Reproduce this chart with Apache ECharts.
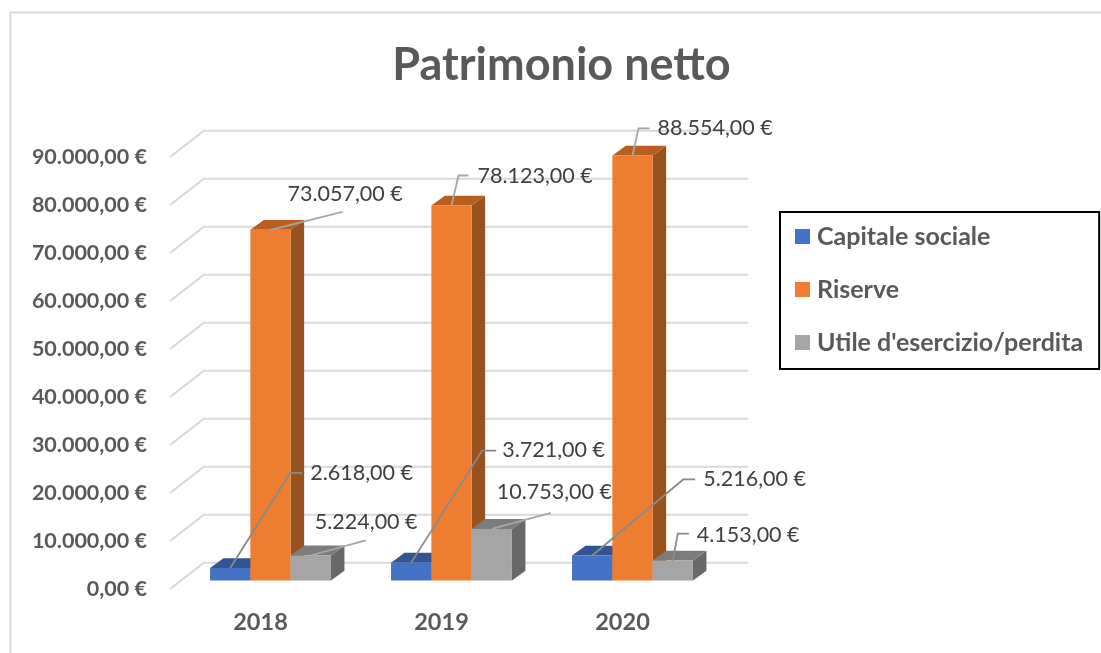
<!DOCTYPE html>
<html>
<head>
<meta charset="utf-8">
<style>html,body{margin:0;padding:0;background:#fff}#chart{width:1101px;height:653px}</style>
<script src="https://cdn.jsdelivr.net/npm/echarts@6/dist/echarts.min.js"></script>
</head>
<body>
<div id="chart"></div>
<script>
var categories = ['2018', '2019', '2020'];
var capitaleSociale = [2618, 3721, 5216];
var riserve = [73057, 78123, 88554];
var utile = [5224, 10753, 4153];
var yTicks = [0, 10000, 20000, 30000, 40000, 50000, 60000, 70000, 80000, 90000];

var FONT = 'Lato';
// leader line paths and text spots, relative to the top middle of each bar
var leaders = [
    [
        {path: [[0, 0], [60, -95], [72, -95]], text: [80, -95], color: '#8a8a8a'},
        {path: [[0, 0], [71, -112], [85, -112]], text: [91, -113], color: '#8a8a8a'},
        {path: [[0, 0], [91, -76], [103, -76]], text: [111, -76], color: '#8a8a8a'}
    ],
    [
        {path: [[0, 0], [72, -18]], text: [17, -36], color: '#a6a6a6'},
        {path: [[0, 0], [7, -30], [17, -30]], text: [26, -29], color: '#a6a6a6'},
        {path: [[0, 0], [6, -27], [17, -27]], text: [25, -27], color: '#a6a6a6'}
    ],
    [
        {path: [[0, 0], [55, -15]], text: [4, -33], color: '#a6a6a6'},
        {path: [[0, 0], [59, -16]], text: [5, -37], color: '#a6a6a6'},
        {path: [[0, 0], [5, -27], [16, -27]], text: [24, -26], color: '#8a8a8a'}
    ]
];

var BAR_W = 40.3, DEPTH_X = 13.5, DEPTH_Y = 9.8;
var SHIFT_X = 10, SHIFT_Y = -8.5;
var WALL_X = 34, WALL_Y = -26.3, WALL_END = 35;

var euro = function(v) {
    var s = String(v).replace(/\B(?=(\d{3})+$)/g, '.');
    return s + ',00 €';
};

// front face of a bar in pixels
var barRect = function(api, seriesPos) {
    var top = api.coord([api.value(0), api.value(1)]);
    var base = api.coord([api.value(0), 0]);
    return {
        x: top[0] + SHIFT_X + (seriesPos - 1.5) * BAR_W,
        top: top[1] + SHIFT_Y,
        bottom: base[1] + SHIFT_Y
    };
};

var renderBar = function(seriesPos, front, topColor, sideColor) {
    return function(params, api) {
        var r = barRect(api, seriesPos);
        var right = r.x + BAR_W;
        return {
            type: 'group',
            children: [
                {type: 'polygon', shape: {points: [[right, r.top], [right + DEPTH_X, r.top - DEPTH_Y], [right + DEPTH_X, r.bottom - DEPTH_Y], [right, r.bottom]]}, style: {fill: sideColor}},
                {type: 'polygon', shape: {points: [[r.x, r.top], [r.x + DEPTH_X, r.top - DEPTH_Y], [right + DEPTH_X, r.top - DEPTH_Y], [right, r.top]]}, style: {fill: topColor}},
                {type: 'rect', shape: {x: r.x, y: r.top, width: BAR_W, height: r.bottom - r.top}, style: {fill: front}}
            ]
        };
    };
};

var renderLeader = function(seriesPos, list) {
    return function(params, api) {
        var r = barRect(api, seriesPos);
        var x0 = r.x + BAR_W / 2;
        var item = list[params.dataIndex];
        var pts = item.path.map(function(p) { return [x0 + p[0], r.top + p[1]]; });
        return {
            type: 'group',
            children: [
                {type: 'polyline', shape: {points: pts}, style: {fill: null, stroke: item.color, lineWidth: 1.8}},
                {type: 'text', x: x0 + item.text[0], y: r.top + item.text[1], style: {
                    text: euro(api.value(1)), fill: '#404040', font: '21.5px ' + FONT,
                    textAlign: 'left', textVerticalAlign: 'middle'
                }}
            ]
        };
    };
};

var renderWall = function(params, api) {
    var sys = params.coordSys;
    var y = api.coord([0, api.value(1)])[1];
    return {
        type: 'polyline',
        shape: {points: [[sys.x, y], [sys.x + WALL_X, y + WALL_Y], [sys.x + sys.width + WALL_END, y + WALL_Y]]},
        style: {fill: null, stroke: '#d9d9d9', lineWidth: 2}
    };
};

var pairs = function(arr) {
    return arr.map(function(v, i) { return [i, v]; });
};

var barSeries = function(name, values, pos, front, topColor, sideColor) {
    return {
        name: name,
        type: 'custom',
        silent: true,
        z: 3,
        itemStyle: {color: front},
        encode: {x: 0, y: 1},
        renderItem: renderBar(pos, front, topColor, sideColor),
        data: pairs(values)
    };
};

var leaderSeries = function(values, pos) {
    return {
        type: 'custom',
        silent: true,
        z: 5,
        encode: {x: 0, y: 1},
        renderItem: renderLeader(pos, leaders[pos]),
        data: pairs(values)
    };
};

var myChart = echarts.init(document.getElementById('chart'));

var option = {
    animation: false,
    backgroundColor: '#fff',
    title: {
        text: 'Patrimonio netto',
        left: 556.5,
        top: 38,
        textAlign: 'center',
        textStyle: {fontFamily: FONT, fontSize: 45, fontWeight: 'bold', color: '#595959'}
    },
    graphic: [{
        type: 'polyline',
        shape: {points: [[10.5, 653], [10.5, 12.5], [1101, 12.5]]},
        style: {fill: null, stroke: '#d9d9d9', lineWidth: 2}
    }],
    legend: {
        orient: 'vertical',
        left: 780,
        top: 212,
        padding: [12, 16, 14, 15],
        itemWidth: 15,
        itemHeight: 15,
        itemGap: 28,
        icon: 'rect',
        borderColor: '#000',
        borderWidth: 2,
        selectedMode: false,
        data: ['Capitale sociale', 'Riserve', "Utile d'esercizio/perdita"],
        textStyle: {fontFamily: FONT, fontSize: 25, fontWeight: 'bold', color: '#595959', padding: [0, 0, 0, 2]}
    },
    grid: {left: 170, top: 157, width: 543, height: 432, containLabel: false},
    xAxis: {
        type: 'category',
        data: categories,
        axisLine: {show: false},
        axisTick: {show: false},
        axisLabel: {margin: 21, color: '#595959', fontFamily: FONT, fontSize: 23.5, fontWeight: 'bold'}
    },
    yAxis: {
        type: 'value',
        min: 0,
        max: 90000,
        interval: 10000,
        axisLine: {show: false},
        axisTick: {show: false},
        splitLine: {show: false},
        axisLabel: {
            margin: 23,
            color: '#595959',
            fontFamily: FONT,
            fontSize: 21.5,
            fontWeight: 'bold',
            formatter: function(v) { return v === 0 ? '0,00 €' : euro(v); }
        }
    },
    series: [
        {
            type: 'custom',
            silent: true,
            z: 1,
            encode: {x: 0, y: 1},
            renderItem: renderWall,
            data: yTicks.map(function(v) { return [0, v]; })
        },
        barSeries('Capitale sociale', capitaleSociale, 0, '#4472c4', '#325591', '#2a4a80'),
        barSeries('Riserve', riserve, 1, '#ed7d31', '#b85f1f', '#98521d'),
        barSeries("Utile d'esercizio/perdita", utile, 2, '#a5a5a5', '#7c7c7c', '#686868'),
        leaderSeries(capitaleSociale, 0),
        leaderSeries(riserve, 1),
        leaderSeries(utile, 2)
    ]
};

myChart.setOption(option);
</script>
</body>
</html>
